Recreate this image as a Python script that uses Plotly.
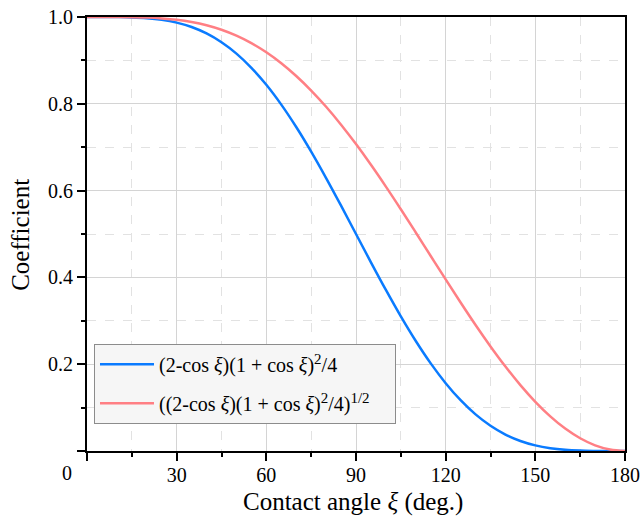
import plotly.graph_objects as go

# Contact angle (deg.)
angle = [0, 5, 10, 15, 20, 25, 30, 35, 40, 45, 50, 55, 60, 65, 70, 75, 80, 85, 90,
         95, 100, 105, 110, 115, 120, 125, 130, 135, 140, 145, 150, 155, 160, 165, 170, 175, 180]

# (2-cos ξ)(1+cos ξ)^2/4
coef_a = [1.000, 1.000, 0.9998, 0.9991, 0.9973, 0.9936, 0.9871, 0.9770, 0.9622, 0.9419,
          0.9157, 0.8830, 0.8438, 0.7981, 0.7465, 0.6898, 0.6289, 0.5652, 0.5000,
          0.4348, 0.3711, 0.3102, 0.2535, 0.2019, 0.1563, 0.1170, 0.0843, 0.0581,
          0.0379, 0.0231, 0.0129, 0.0064, 0.0027, 0.0009, 0.0002, 0.0000, 0.0000]

# ((2-cos ξ)(1+cos ξ)^2/4)^(1/2)
coef_b = [1.000, 1.000, 0.9999, 0.9996, 0.9987, 0.9968, 0.9936, 0.9884, 0.9809, 0.9705,
          0.9569, 0.9397, 0.9186, 0.8934, 0.8640, 0.8305, 0.7931, 0.7518, 0.7071,
          0.6594, 0.6092, 0.5570, 0.5035, 0.4493, 0.3953, 0.3421, 0.2903, 0.2410,
          0.1946, 0.1518, 0.1134, 0.0799, 0.0517, 0.0293, 0.0130, 0.0033, 0.0000]

x_ticks = [0, 30, 60, 90, 120, 150, 180]
x_labels = ["", "30", "60", "90", "120", "150", "180"]
y_ticks = [0, 0.2, 0.4, 0.6, 0.8, 1.0]
y_labels = ["", "0.2", "0.4", "0.6", "0.8", "1.0"]

SUP = "<sup><span style='font-size:15px'>%s</span></sup>"
name_a = "(2-cos <i>ξ</i>)(1 + cos <i>ξ</i>)" + SUP % "2" + "/4"
name_b = "((2-cos <i>ξ</i>)(1 + cos <i>ξ</i>)" + SUP % "2" + "/4)" + SUP % "1/2" + "&nbsp;&nbsp;&nbsp;&nbsp;"
x_title = "Contact angle <i>ξ</i> (deg.)"
y_title = "Coefficient"

FONT = "Liberation Serif, Times New Roman, serif"

fig = go.Figure()
fig.add_trace(go.Scatter(x=angle, y=coef_a, mode="lines", name=name_a, legendgroup="a",
                         line=dict(color="#0A7BFF", width=2.5, shape="spline")))
fig.add_trace(go.Scatter(x=angle, y=coef_b, mode="lines", name=name_b, legendgroup="b",
                         line=dict(color="#FF7F84", width=2.5, shape="spline")))

fig.update_layout(
    width=642, height=517,
    margin=dict(l=87, r=17, t=17, b=66),
    paper_bgcolor="white", plot_bgcolor="white",
    font=dict(family=FONT, size=20, color="black"),
    showlegend=True,
    legend=dict(x=0.013, y=0.247, xanchor="left", yanchor="top",
                bgcolor="#f6f6f6", bordercolor="#8c8c8c", borderwidth=1,
                font=dict(family=FONT, size=20), tracegroupgap=10,
                traceorder="grouped", itemwidth=54),
    annotations=[
        dict(text="0", xref="paper", yref="paper", x=-0.037, y=-0.0507,
             xanchor="center", yanchor="middle", showarrow=False,
             font=dict(family=FONT, size=20)),
        dict(text=x_title, xref="paper", yref="paper", x=0.494, y=-0.118,
             xanchor="center", yanchor="middle", showarrow=False,
             font=dict(family=FONT, size=25)),
        dict(text=y_title, xref="paper", yref="paper", x=-0.1227, y=0.498,
             xanchor="center", yanchor="middle", showarrow=False, textangle=-90,
             font=dict(family=FONT, size=25)),
    ],
)

fig.update_xaxes(
    range=[0, 180], tickvals=x_ticks, ticktext=x_labels, automargin=False,
    showline=True, linecolor="black", linewidth=2, mirror=True,
    ticks="outside", ticklen=8, tickwidth=2, tickcolor="black",
    showgrid=True, gridcolor="#d4d4d4", gridwidth=1, zeroline=False,
    minor=dict(dtick=15, ticks="outside", ticklen=4, tickwidth=2, tickcolor="black",
               showgrid=True, gridcolor="#e2e2e2", griddash="dash", gridwidth=1),
    tickfont=dict(family=FONT, size=20), ticklabelstandoff=-3,
    ticklabeloverflow="allow",
)
fig.update_yaxes(
    range=[0, 1.0], tickvals=y_ticks, ticktext=y_labels, automargin=False,
    showline=True, linecolor="black", linewidth=2, mirror=True,
    ticks="outside", ticklen=8, tickwidth=2, tickcolor="black",
    showgrid=True, gridcolor="#d4d4d4", gridwidth=1, zeroline=False,
    minor=dict(dtick=0.1, ticks="outside", ticklen=4, tickwidth=2, tickcolor="black",
               showgrid=True, gridcolor="#e2e2e2", griddash="dash", gridwidth=1),
    tickfont=dict(family=FONT, size=20), ticklabeloverflow="allow",
)

fig.write_html("out.html", config={"displayModeBar": False},
               post_script="document.body.style.margin='0';")
